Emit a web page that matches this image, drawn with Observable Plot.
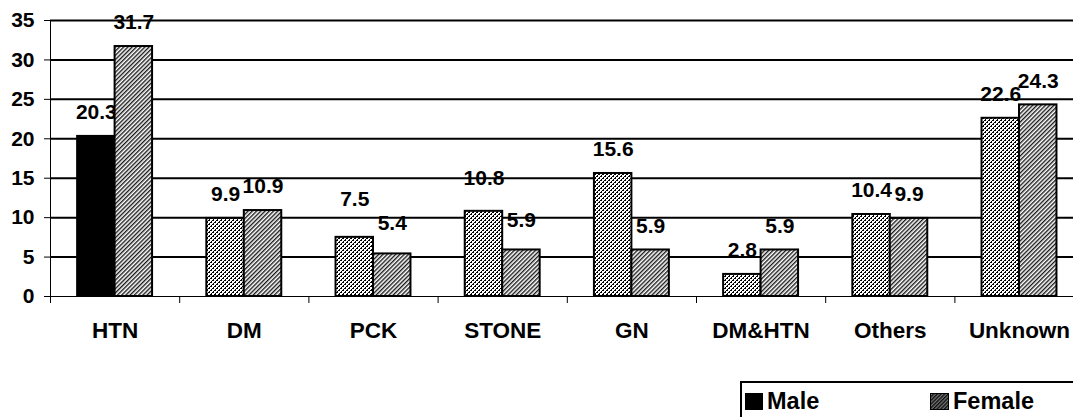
<!DOCTYPE html>
<html>
<head>
<meta charset="utf-8">
<script src="https://cdn.jsdelivr.net/npm/d3@7"></script>
<script src="https://cdn.jsdelivr.net/npm/@observablehq/plot@0.6"></script>
<style>
  html, body { margin: 0; padding: 0; background: #fff; }
  body { font-family: "Liberation Sans", Arial, sans-serif; width: 1073px; height: 417px; overflow: hidden; }
  #legend {
    position: relative;
    margin-left: 740px; margin-top: 1px;
    width: 340px; height: 40px;
    border-top: 2px solid #000; border-left: 2px solid #000;
    font-weight: bold; font-size: 23.5px; color: #000;
  }
  .item { position: absolute; top: 8px; display: flex; align-items: center; }
  .item span { margin-left: 4px; line-height: 20px; }
</style>
</head>
<body>
<svg width="0" height="0" style="position:absolute">
  <defs>
    <pattern id="dots" width="4" height="4" patternUnits="userSpaceOnUse">
      <rect width="4" height="4" fill="#fff"/>
      <rect x="0" y="0" width="2" height="1" fill="#000"/>
      <rect x="3" y="1" width="1" height="1" fill="#000"/>
      <rect x="2" y="2" width="2" height="1" fill="#000"/>
      <rect x="1" y="3" width="1" height="1" fill="#000"/>
    </pattern>
    <pattern id="hatch" width="3" height="3" patternUnits="userSpaceOnUse" patternTransform="rotate(45)">
      <rect width="3" height="3" fill="#fff"/>
      <rect width="1.4" height="3" fill="#1a1a1a"/>
    </pattern>
    <pattern id="hatchDark" width="2.6" height="2.6" patternUnits="userSpaceOnUse" patternTransform="rotate(45)">
      <rect width="2.6" height="2.6" fill="#777"/>
      <rect width="1.4" height="2.6" fill="#111"/>
    </pattern>
  </defs>
</svg>
<div id="chart"></div>
<div id="legend">
  <div class="item" style="left:3px"><svg width="18" height="17"><rect width="18" height="17" fill="#000"/></svg><span>Male</span></div>
  <div class="item" style="left:188px"><svg width="19" height="17"><rect x="0.5" y="0.5" width="18" height="16" fill="url(#hatchDark)" stroke="#000"/></svg><span>Female</span></div>
</div>
<script>
// ---- data ----
const categories = ["HTN", "DM", "PCK", "STONE", "GN", "DM&HTN", "Others", "Unknown"];
const maleValues = [20.3, 9.9, 7.5, 10.8, 15.6, 2.8, 10.4, 22.6];
const femaleValues = [31.7, 10.9, 5.4, 5.9, 5.9, 5.9, 9.9, 24.3];
const yTicks = [0, 5, 10, 15, 20, 25, 30, 35];

// ---- styling ----
const GROUP_PAD = 0.21;           // fraction of each category slot left empty on each side
const LABEL_GAP = 24;             // px between bar top and label centre
const labelNudge = {              // extra px lift for labels that were moved by hand in the original
  "PCK|Male": 14, "PCK|Female": 7, "STONE|Male": 9, "STONE|Female": 6
};
const FONT = "Liberation Sans, Arial, sans-serif";

const rows = [];
categories.forEach((c, i) => {
  rows.push({cat: c, i, sex: "Male", value: maleValues[i]});
  rows.push({cat: c, i, sex: "Female", value: femaleValues[i]});
});
const x1 = d => d.sex === "Male" ? d.i + GROUP_PAD : d.i + 0.5;
const x2 = d => d.sex === "Male" ? d.i + 0.5 : d.i + 1 - GROUP_PAD;
const fillOf = d => d.sex === "Female" ? "url(#hatch)" : (d.cat === "HTN" ? "#000" : "url(#dots)");

const chart = Plot.plot({
  width: 1073,
  height: 380,
  marginTop: 20,
  marginBottom: 84,
  marginLeft: 50,
  marginRight: 0,
  style: {fontFamily: FONT, fontWeight: "bold", fontSize: "21px", color: "#000", background: "#fff", overflow: "visible"},
  x: {domain: [0, categories.length], range: [50, 1083.6], ticks: d3.range(0, categories.length + 1), tickSize: 7, tickFormat: () => "", line: true, label: null},
  y: {domain: [0, 35], ticks: yTicks, tickSize: 6, tickPadding: 10, line: true, label: null},
  color: {type: "identity"},
  marks: [
    Plot.ruleY(yTicks.filter(t => t > 0), {stroke: "#000", strokeWidth: 2}),
    Plot.text(rows, {
      x: d => (x1(d) + x2(d)) / 2,
      y: "value",
      text: d => d.value.toFixed(1),
      fontSize: 21, fontWeight: "bold", fontFamily: FONT, fill: "#000"
    }),
    Plot.rectY(rows, {x1, x2, y1: () => 0, y2: "value", fill: fillOf, stroke: "#000", strokeWidth: 2}),
    Plot.text(categories, {
      x: (d, i) => i + 0.5, y: () => 0, text: d => d, dy: 34,
      fontSize: 22.5, fontWeight: "bold", fontFamily: FONT, fill: "#000"
    })
  ]
});
document.getElementById("chart").appendChild(chart);

// per-label vertical offset (dy must be constant in Plot, so apply after render)
const labelTexts = chart.querySelectorAll("g[aria-label='text']")[0].querySelectorAll("text");
labelTexts.forEach((t, k) => {
  const d = rows[k];
  const lift = LABEL_GAP + (labelNudge[d.cat + "|" + d.sex] || 0);
  t.setAttribute("transform", (t.getAttribute("transform") || "") + ` translate(0,${-lift})`);
});
</script>
</body>
</html>
